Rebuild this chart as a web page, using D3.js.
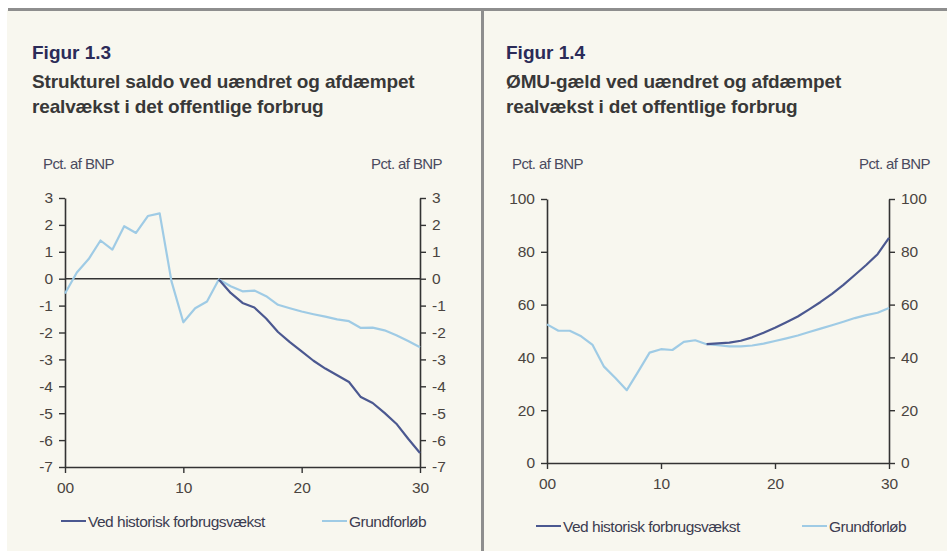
<!DOCTYPE html>
<html>
<head>
<meta charset="utf-8">
<script src="https://cdn.jsdelivr.net/npm/d3@7"></script>
<style>
  body { margin: 0; background: #fff; }
  svg { display: block; font-family: "Liberation Sans", Arial, sans-serif; }
</style>
</head>
<body>
<svg width="947" height="551"></svg>
<script>
// years 2000-2030, shown as two-digit labels
var years = [0,1,2,3,4,5,6,7,8,9,10,11,12,13,14,15,16,17,18,19,20,21,22,23,24,25,26,27,28,29,30];
var xTicks = [0, 10, 20, 30];
var xTickLabels = ['00', '10', '20', '30'];

// Figur 1.3 - strukturel saldo
var saldoGrund = [-0.55, 0.23, 0.73, 1.42, 1.08, 1.95, 1.70, 2.33, 2.43, -0.1, -1.62, -1.1, -0.85, -0.03,
    -0.28, -0.47, -0.44, -0.65, -0.97, -1.1, -1.22, -1.32, -1.41, -1.51, -1.58, -1.83, -1.82, -1.92, -2.1, -2.32, -2.55];
var saldoHist = [null, null, null, null, null, null, null, null, null, null, null, null, null, -0.03,
    -0.53, -0.9, -1.07, -1.48, -1.98, -2.36, -2.7, -3.05, -3.34, -3.59, -3.84, -4.4, -4.62, -4.99, -5.39, -5.95, -6.48];
var saldoTicks = [3, 2, 1, 0, -1, -2, -3, -4, -5, -6, -7];

// Figur 1.4 - ØMU-gæld
var gaeldGrund = [52.5, 50.1, 50.1, 48, 44.7, 36.5, 32.2, 27.6, 34.6, 41.8, 43.1, 42.8, 45.9, 46.5,
    45, 44.6, 44.2, 44.2, 44.5, 45.2, 46.2, 47.2, 48.3, 49.6, 50.9, 52.2, 53.5, 54.9, 56, 56.9, 58.7];
var gaeldHist = [null, null, null, null, null, null, null, null, null, null, null, null, null, null,
    45, 45.3, 45.6, 46.3, 47.6, 49.3, 51.2, 53.3, 55.5, 58.2, 61, 64.1, 67.5, 71.2, 75, 79.1, 85.3];
var gaeldTicks = [100, 80, 60, 40, 20, 0];

var seriesNames = ['Ved historisk forbrugsvækst', 'Grundforløb'];
var darkColor = '#4b5890';
var lightColor = '#9fcbe5';

var svg = d3.select('svg');

// page frame
svg.append('rect').attr('x', 7).attr('y', 10).attr('width', 940).attr('height', 541).attr('fill', '#f8f7ef');
svg.append('rect').attr('x', 8).attr('y', 8).attr('width', 939).attr('height', 3).attr('fill', '#8e8e8e');
svg.append('rect').attr('x', 481).attr('y', 8).attr('width', 3).attr('height', 543).attr('fill', '#8e8e8e');

function panel(opt) {
    var g = svg.append('g');

    // titles
    g.append('text').attr('x', opt.tx).attr('y', 59)
        .attr('font-size', 19).attr('font-weight', 'bold').attr('fill', '#2b2b58')
        .text(opt.fig);
    opt.title.forEach(function(t, i) {
        g.append('text').attr('x', opt.tx).attr('y', 88 + i * 24.5)
            .attr('font-size', 19).attr('font-weight', 'bold').attr('fill', '#383838')
            .attr('letter-spacing', -0.15).text(t);
    });

    var x = d3.scaleLinear().domain([0, 30]).range([opt.left, opt.right]);
    var y = d3.scaleLinear().domain(opt.yDomain).range([opt.bottom, opt.top]);

    // unit labels
    g.append('text').attr('x', opt.ulx).attr('y', 169).attr('font-size', 15)
        .attr('fill', '#4a4a5e').attr('letter-spacing', -0.6).text('Pct. af BNP');
    g.append('text').attr('x', opt.urx).attr('y', 169).attr('font-size', 15)
        .attr('text-anchor', 'end').attr('fill', '#4a4a5e').attr('letter-spacing', -0.6).text('Pct. af BNP');

    function styleAxis(a) {
        a.select('.domain').attr('stroke', '#333').attr('stroke-width', 1.6);
        a.selectAll('.tick line').attr('stroke', '#333').attr('stroke-width', 1.4);
        a.selectAll('.tick text').attr('fill', '#4a4440').attr('font-size', 15.5)
            .attr('font-family', '"Liberation Sans", Arial, sans-serif');
    }

    var fmt = function(d) { return String(d); };

    var ay = g.append('g').attr('transform', 'translate(' + opt.left + ',0)')
        .call(d3.axisLeft(y).tickValues(opt.ticks).tickFormat(fmt).tickSize(6).tickSizeOuter(0).tickPadding(6));
    styleAxis(ay);
    var ay2 = g.append('g').attr('transform', 'translate(' + opt.right + ',0)')
        .call(d3.axisRight(y).tickValues(opt.ticks).tickFormat(fmt).tickSize(6).tickSizeOuter(0).tickPadding(6));
    styleAxis(ay2);

    if (opt.zeroLine) {
        g.append('line').attr('x1', opt.left).attr('x2', opt.right)
            .attr('y1', y(0)).attr('y2', y(0))
            .attr('stroke', '#333').attr('stroke-width', 1.6);
    }

    var ax = g.append('g').attr('transform', 'translate(0,' + opt.bottom + ')')
        .call(d3.axisBottom(x).tickValues(xTicks).tickSize(6).tickSizeOuter(0).tickPadding(9)
            .tickFormat(function(d, i) { return xTickLabels[i]; }));
    styleAxis(ax);

    var line = d3.line()
        .defined(function(d) { return d[1] !== null; })
        .x(function(d) { return x(d[0]); })
        .y(function(d) { return y(d[1]); });

    g.append('path').datum(years.map(function(yr, i) { return [yr, opt.grund[i]]; }))
        .attr('d', line).attr('fill', 'none').attr('stroke', lightColor).attr('stroke-width', 2.2)
        .attr('stroke-linejoin', 'round');
    g.append('path').datum(years.map(function(yr, i) { return [yr, opt.hist[i]]; }))
        .attr('d', line).attr('fill', 'none').attr('stroke', darkColor).attr('stroke-width', 2.2)
        .attr('stroke-linejoin', 'round');

    // legend
    var lg = [[opt.leg[0], darkColor, seriesNames[0]], [opt.leg[1], lightColor, seriesNames[1]]];
    lg.forEach(function(l) {
        g.append('line').attr('x1', l[0]).attr('x2', l[0] + 25)
            .attr('y1', opt.legY).attr('y2', opt.legY)
            .attr('stroke', l[1]).attr('stroke-width', 2);
        g.append('text').attr('x', l[0] + 27).attr('y', opt.legY + 5.5)
            .attr('font-size', 15.5).attr('letter-spacing', -0.5).attr('fill', '#3c3c50').text(l[2]);
    });
}

panel({
    fig: 'Figur 1.3',
    title: ['Strukturel saldo ved uændret og afdæmpet', 'realvækst i det offentlige forbrug'],
    tx: 32, ulx: 43, urx: 442,
    left: 65, right: 420, top: 198, bottom: 467,
    yDomain: [-7, 3], ticks: saldoTicks, zeroLine: true,
    grund: saldoGrund, hist: saldoHist,
    leg: [61, 322], legY: 521
});

panel({
    fig: 'Figur 1.4',
    title: ['ØMU-gæld ved uændret og afdæmpet', 'realvækst i det offentlige forbrug'],
    tx: 506, ulx: 512, urx: 930,
    left: 547, right: 889, top: 199, bottom: 463,
    yDomain: [0, 100], ticks: gaeldTicks, zeroLine: false,
    grund: gaeldGrund, hist: gaeldHist,
    leg: [536, 802], legY: 526
});
</script>
</body>
</html>
